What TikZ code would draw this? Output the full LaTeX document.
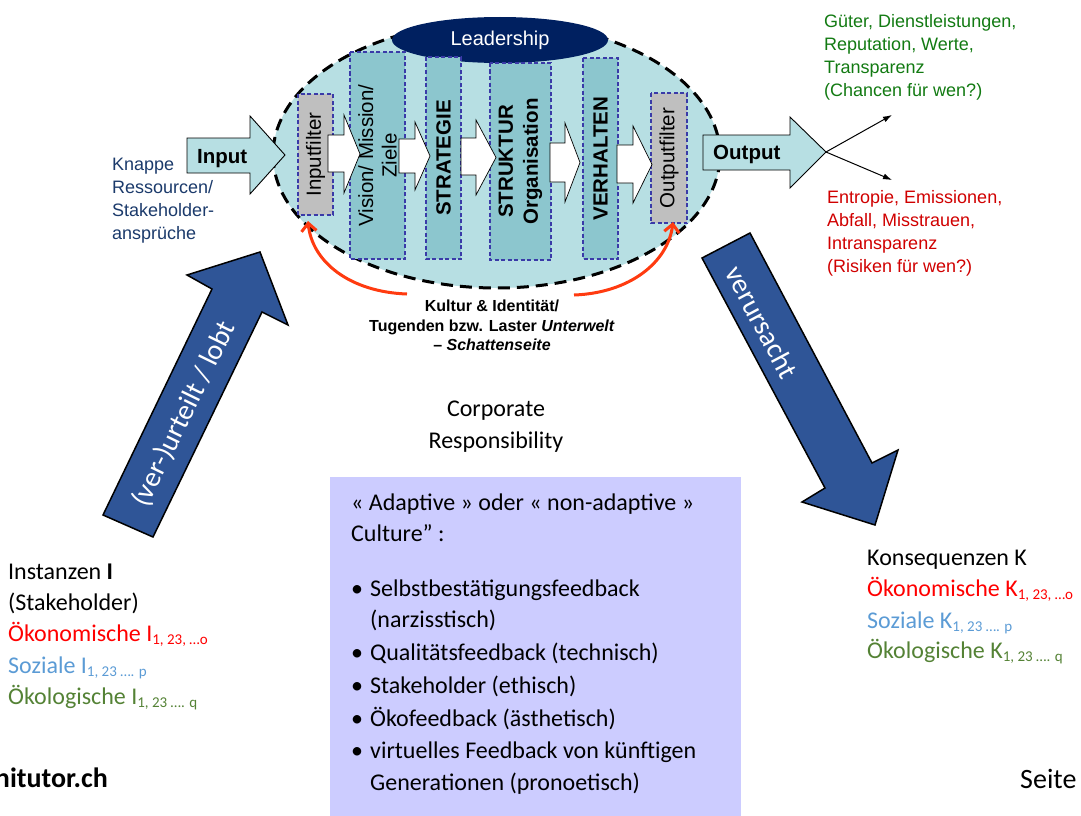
\documentclass[tikz,border=0pt]{standalone}
\usepackage{fontspec}
\setmainfont{Carlito}
\newfontfamily\arialf{Liberation Sans}
\usetikzlibrary{shapes.geometric,arrows.meta}
\definecolor{ellfill}{HTML}{B7DFE3}
\definecolor{tealfill}{HTML}{8CC6CE}
\definecolor{grayfill}{HTML}{BFBFBF}
\definecolor{boxborder}{HTML}{3A3AA8}
\definecolor{leadnavy}{HTML}{002060}
\definecolor{bigblue}{HTML}{2F5597}
\definecolor{arcred}{HTML}{FF3B10}
\definecolor{knavy}{HTML}{1B3A6B}
\definecolor{chgreen}{HTML}{127A12}
\definecolor{riskred}{HTML}{D00000}
\definecolor{okred}{HTML}{FF0000}
\definecolor{soblue}{HTML}{5B9BD5}
\definecolor{ecgreen}{HTML}{548235}
\definecolor{lavender}{HTML}{CCCCFF}
\newcommand\subs[1]{\raisebox{-3.5pt}{\fontsize{15}{15}\selectfont #1}}
\begin{document}
\begin{tikzpicture}[x=1pt,y=-1pt,
  colbox/.style={draw=boxborder,line width=1.6pt,dash pattern=on 4pt off 2.5pt,rotate=90,inner sep=0pt,align=center,font=\arialf\fontsize{20.5}{23.5}\selectfont},
  whitearrow/.style={draw=black,fill=white,line width=0.7pt},
  cyanarrow/.style={draw=black,fill=ellfill,line width=0.9pt},
  bigarrow/.style={draw=black,fill=bigblue,line width=1.5pt,line join=miter},
  arialtxt/.style={font=\arialf\fontsize{18}{23}\selectfont,anchor=base west,inner sep=0pt},
  caltxt/.style={font=\fontsize{24}{31}\selectfont,anchor=base west,inner sep=0pt},
  kultxt/.style={font=\arialf\bfseries\fontsize{16}{20}\selectfont,anchor=base,inner sep=0pt},
  redarc/.style={draw=arcred,line width=3pt,-{Straight Barb[length=8pt,width=15pt]}},
  thinarrow/.style={draw=black,line width=1pt,-{Latex[length=9pt,width=6pt]}}
]
\useasboundingbox (0,0) rectangle (1081,816);

% big dashed ellipse
\node[ellipse,draw=black,fill=ellfill,line width=3pt,dash pattern=on 12pt off 7pt,minimum width=447pt,minimum height=266pt,inner sep=0pt] (ell) at (496.5,155) {};
% Leadership
\node[ellipse,fill=leadnavy,minimum width=216pt,minimum height=46pt,inner sep=0pt,text=white,font=\arialf\fontsize{20}{24}\selectfont] (lead) at (500,40) {Leadership};

% column boxes
\node[colbox,fill=grayfill,minimum width=121pt,minimum height=35pt] (inf) at (315.5,154.5) {Inputfilter};
\node[colbox,fill=tealfill,minimum width=207pt,minimum height=55pt] (vis) at (377.5,155.5) {Vision/ Mission/\\Ziele};
\node[colbox,fill=tealfill,minimum width=202pt,minimum height=35pt,font=\arialf\bfseries\fontsize{20.5}{23.5}\selectfont] (strat) at (443.5,158) {STRATEGIE};
\node[colbox,fill=tealfill,minimum width=197pt,minimum height=61pt,font=\arialf\bfseries\fontsize{20.5}{25}\selectfont] (struk) at (520.5,161.5) {STRUKTUR\\Organisation};
\node[colbox,fill=tealfill,minimum width=201pt,minimum height=35pt,font=\arialf\bfseries\fontsize{20.5}{23.5}\selectfont] (verh) at (600.5,158.5) {VERHALTEN};
\node[colbox,fill=grayfill,minimum width=130pt,minimum height=36pt] (outf) at (669,158) {Outputfilter};

% small white arrows
\draw[whitearrow] (328,135) -- (344,135) -- (344,115) -- (360,154) -- (344,193) -- (344,172) -- (328,172) -- cycle;
\draw[whitearrow] (399,139) -- (415,139) -- (415,122) -- (430,156) -- (415,190) -- (415,173) -- (399,173) -- cycle;
\draw[whitearrow] (461,138) -- (476,138) -- (476,120) -- (496,157.5) -- (476,195) -- (476,175) -- (461,175) -- cycle;
\draw[whitearrow] (550,143) -- (565,143) -- (565,123) -- (580,162.5) -- (565,202) -- (565,182) -- (550,182) -- cycle;
\draw[whitearrow] (617,145) -- (633,145) -- (633,126) -- (652,164.5) -- (633,203) -- (633,183) -- (617,183) -- cycle;

% input / output arrows
\draw[cyanarrow] (187,138) -- (250,138) -- (250,116) -- (285,155) -- (250,194) -- (250,173) -- (187,173) -- cycle;
\node[anchor=base west,inner sep=0pt,font=\arialf\bfseries\fontsize{20.5}{24}\selectfont] (intext) at (197,163) {Input};
\draw[cyanarrow] (703,135) -- (790,135) -- (790,117) -- (826,152) -- (790,188) -- (790,170) -- (703,170) -- cycle;
\node[anchor=base west,inner sep=0pt,font=\arialf\bfseries\fontsize{20.5}{24}\selectfont] (outtext) at (713,159) {Output};
\coordinate (outtip) at (826,152);
\coordinate (chance) at (892,115);
\coordinate (risk) at (892,180);
\draw[thinarrow] (outtip) -- (chance);
\draw[thinarrow] (outtip) -- (risk);

% red arcs
\coordinate (rls) at (407,294);
\coordinate (rle) at (308,221);
\coordinate (rrs) at (574,295);
\coordinate (rre) at (673,222);
\draw[redarc] (rls) .. controls (350,292) and (312,262) .. (rle);
\draw[redarc] (rrs) .. controls (630,293) and (668,262) .. (rre);

% Kultur text
\node[kultxt] (k1) at (492,311) {Kultur \& Identität/};
\node[kultxt] (k2) at (492,331) {Tugenden bzw. Laster \textit{Unterwelt}};
\node[kultxt] (k3) at (492,350) {– \textit{Schattenseite}};

% left Arial text
\node[arialtxt,text=knavy] (kn1) at (112,170) {Knappe};
\node[arialtxt,text=knavy] (kn2) at (112,193) {Ressourcen/};
\node[arialtxt,text=knavy] (kn3) at (112,216) {Stakeholder-};
\node[arialtxt,text=knavy] (kn4) at (112,239) {ansprüche};

% right Arial texts
\node[arialtxt,text=chgreen] (g1) at (824,28) {Güter, Dienstleistungen,};
\node[arialtxt,text=chgreen] (g2) at (824,51) {Reputation, Werte,};
\node[arialtxt,text=chgreen] (g3) at (824,73.5) {Transparenz};
\node[arialtxt,text=chgreen] (g4) at (824,96) {(Chancen für wen?)};
\node[arialtxt,text=riskred] (r1) at (827,203) {Entropie, Emissionen,};
\node[arialtxt,text=riskred] (r2) at (827,226) {Abfall, Misstrauen,};
\node[arialtxt,text=riskred] (r3) at (827,249) {Intransparenz};
\node[arialtxt,text=riskred] (r4) at (827,272) {(Risiken für wen?)};

% big blue arrows
\draw[bigarrow] (103,515) -- (212,289) -- (187,275) -- (260,252) -- (288,325) -- (262,312) -- (153,537) -- cycle;
\node[rotate=64,text=white,font=\fontsize{28.5}{30}\selectfont,inner sep=0pt] (urteil) at (184,414) {(ver-)urteilt / lobt};
\draw[bigarrow] (702,258) -- (750,233) -- (872,463) -- (898,450) -- (875,525) -- (802,502) -- (825,488) -- cycle;
\node[rotate=-62,text=white,font=\fontsize{28.5}{30}\selectfont,inner sep=0pt] (verurs) at (762,322) {verursacht};

% Corporate Responsibility
\node[font=\fontsize{24}{31}\selectfont,anchor=base,inner sep=0pt] (cr1) at (496,416) {Corporate};
\node[font=\fontsize{24}{31}\selectfont,anchor=base,inner sep=0pt] (cr2) at (496,448) {Responsibility};

% purple box
\fill[lavender] (330,477) rectangle (741,816);
\node[caltxt] (p1) at (351,510) {« Adaptive » oder « non-adaptive »};
\node[caltxt] (p2) at (351,541) {Culture” :};
\node[caltxt] (b1) at (351,596) {•};
\node[caltxt] (p3) at (370,596) {Selbstbestätigungsfeedback};
\node[caltxt] (p4) at (370,627) {(narzisstisch)};
\node[caltxt] (b2) at (351,660) {•};
\node[caltxt] (p5) at (370,660) {Qualitätsfeedback (technisch)};
\node[caltxt] (b3) at (351,693) {•};
\node[caltxt] (p6) at (370,693) {Stakeholder (ethisch)};
\node[caltxt] (b4) at (351,726) {•};
\node[caltxt] (p7) at (370,726) {Ökofeedback (ästhetisch)};
\node[caltxt] (b5) at (351,758) {•};
\node[caltxt] (p8) at (370,758) {virtuelles Feedback von künftigen};
\node[caltxt] (p9) at (370,790) {Generationen (pronoetisch)};

% left block
\node[caltxt] (i1) at (8,579) {Instanzen {\bfseries I}};
\node[caltxt] (i2) at (8,610) {(Stakeholder)};
\node[caltxt,text=okred] (i3) at (8,641) {Ökonomische I\subs{1, 23, …o}};
\node[caltxt,text=soblue] (i4) at (8,673) {Soziale I\subs{1, 23 …. p}};
\node[caltxt,text=ecgreen] (i5) at (8,704) {Ökologische I\subs{1, 23 …. q}};

% right block
\node[caltxt] (c1) at (867,565) {Konsequenzen K};
\node[caltxt,text=okred] (c2) at (867,596) {Ökonomische K\subs{1, 23, …o}};
\node[caltxt,text=soblue] (c3) at (867,628) {Soziale K\subs{1, 23 …. p}};
\node[caltxt,text=ecgreen] (c4) at (867,658) {Ökologische K\subs{1, 23 …. q}};

% footer
\node[font=\bfseries\fontsize{28}{30}\selectfont,anchor=base east,inner sep=0pt] (foot) at (108,787) {nitutor.ch};
\node[font=\fontsize{28}{30}\selectfont,anchor=base west,inner sep=0pt] (seite) at (1020,788) {Seite};
\end{tikzpicture}
\end{document}
